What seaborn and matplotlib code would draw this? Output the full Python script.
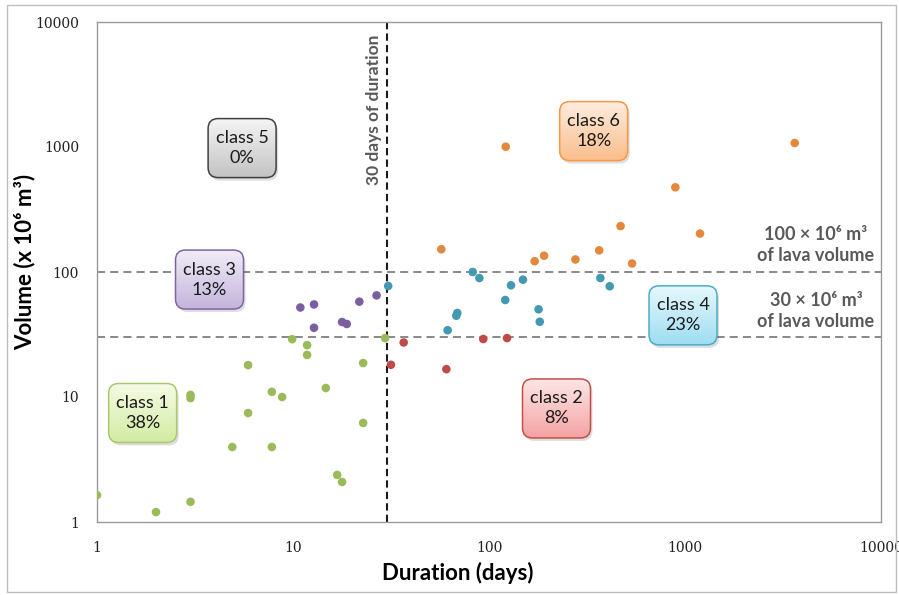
"""
Duration vs volume of lava flows, log-log, six classes split at
30 days of duration and 30 / 100 x 10^6 m3 of lava volume.
"""

import numpy as np
import pandas as pd
import seaborn as sns
import matplotlib.pyplot as plt
from matplotlib.colors import to_rgb
from matplotlib.patches import Rectangle, FancyBboxPatch
from matplotlib.ticker import FixedLocator, NullLocator

# --- datos ---
class1_dur = [1, 2, 3, 3, 3, 4.9, 5.9, 5.9, 7.8, 7.8, 8.8, 9.9, 11.8, 11.8, 14.7, 16.8, 17.8, 22.8, 22.8, 29.5]
class1_vol = [1.64, 1.2, 1.45, 10.4, 9.8, 3.98, 18, 7.45, 11, 3.98, 10, 29, 26, 21.7, 11.8, 2.38, 2.09, 18.7, 6.2, 29.6]
class2_dur = [31.6, 36.7, 60.6, 93.5, 123.6]
class2_vol = [18.1, 27.3, 16.7, 29.1, 29.6]
class3_dur = [10.9, 12.8, 12.8, 17.8, 18.8, 21.8, 26.7]
class3_vol = [52, 55, 35.8, 39.8, 38.4, 57.9, 65]
class4_dur = [30.6, 61.5, 68.1, 68.9, 82.6, 89.3, 121, 129.5, 149, 179, 181.5, 370, 413]
class4_vol = [77.3, 34.2, 44.7, 47, 100, 89.5, 59.7, 78.3, 86.8, 50.3, 40, 89.5, 76.9]
class6_dur = [57.1, 121.7, 171, 191, 276, 365, 469, 537, 893, 1193, 3629]
class6_vol = [152, 1005, 122, 135, 126, 149, 233, 117, 476, 203, 1077]

class_names = ["class 1", "class 2", "class 3", "class 4", "class 5", "class 6"]
class_pct = ["38%", "8%", "13%", "23%", "0%", "18%"]

tick_values = [1, 10, 100, 1000, 10000]
tick_labels = ["1", "10", "100", "1000", "10000"]

duration_limit = 30
volume_limits = [30, 100]

# --- colores ---
dot_colors = {"class 1": "#9BBB59", "class 2": "#BE4B48", "class 3": "#7A5E9F",
              "class 4": "#4399B2", "class 6": "#E3883D"}
box_styles = {  # arriba, abajo, borde
    "class 1": ("#F6FBE6", "#D3EBA3", "#A9C86E"),
    "class 2": ("#FDE6E6", "#F4A2A2", "#C0504D"),
    "class 3": ("#F0ECF6", "#C4B5DC", "#8064A2"),
    "class 4": ("#E6F8FD", "#9EDDF1", "#4BACC6"),
    "class 5": ("#F4F4F4", "#C3C3C3", "#404040"),
    "class 6": ("#FEECDD", "#FABE8C", "#F79646"),
}
# centro de cada caja (duración, volumen)
box_pos = {"class 1": (1.71, 7.45), "class 2": (221, 8.1), "class 3": (3.75, 87),
           "class 4": (977, 45), "class 5": (5.5, 980), "class 6": (342, 1340)}

df = pd.concat([
    pd.DataFrame({"duration": d, "volume": v, "cls": c})
    for d, v, c in [(class1_dur, class1_vol, "class 1"), (class2_dur, class2_vol, "class 2"),
                    (class3_dur, class3_vol, "class 3"), (class4_dur, class4_vol, "class 4"),
                    (class6_dur, class6_vol, "class 6")]
], ignore_index=True)

sns.set_theme(style="white")
plt.rcParams["font.family"] = ["Lato", "DejaVu Sans"]

W, H = 899, 595
fig = plt.figure(figsize=(W / 100, H / 100), dpi=100)
ax = fig.add_axes([97 / W, 1 - 522 / H, 784 / W, 500 / H])

sns.scatterplot(data=df, x="duration", y="volume", hue="cls", palette=dot_colors,
                s=38, edgecolor="none", legend=False, ax=ax, zorder=3)

ax.set_xscale("log")
ax.set_yscale("log")
ax.set_xlim(1, 10000)
ax.set_ylim(1, 10000)

for axis in (ax.xaxis, ax.yaxis):
    axis.set_major_locator(FixedLocator(tick_values))
    axis.set_minor_locator(NullLocator())
ax.set_xticklabels(tick_labels)
ax.set_yticklabels(tick_labels)
ax.tick_params(length=0, labelsize=10, colors="#222222")
ax.tick_params(axis="x", pad=14)
ax.tick_params(axis="y", pad=13)
for lab in ax.get_xticklabels() + ax.get_yticklabels():
    lab.set_family("DejaVu Serif")

for sp in ax.spines.values():
    sp.set_color("#9A9A9A")
    sp.set_linewidth(1)

ax.set_xlabel("Duration (days)", fontsize=16, fontweight="bold", color="black")
ax.set_ylabel("Volume (x 10⁶ m³)", fontsize=16, fontweight="bold", color="black")
ax.xaxis.set_label_coords(0.46, -0.08)
ax.yaxis.set_label_coords(-0.078, 0.52)

# líneas de corte
ax.axvline(duration_limit, color="#1a1a1a", lw=1.5, ls=(0, (3.5, 2)), zorder=2)
for v in volume_limits:
    ax.axhline(v, color="#7F7F7F", lw=1.3, ls=(0, (4.5, 2.8)), zorder=2)

grey = "#595959"
ax.text(25.9, 1977, "30 days of duration", rotation=90, ha="center", va="center",
        fontsize=12.5, fontweight="bold", color=grey)
ax.text(4660, 164, "100 × 10⁶ m³\nof lava volume", ha="center", va="center",
        fontsize=13, fontweight="bold", color=grey, linespacing=1.25)
ax.text(4660, 48.8, "30 × 10⁶ m³\nof lava volume", ha="center", va="center",
        fontsize=13, fontweight="bold", color=grey, linespacing=1.25)

# --- cajas de clase con degradado (en píxeles sobre un eje superpuesto) ---
ov = fig.add_axes([0, 0, 1, 1], zorder=5)
ov.set_autoscale_on(False)
ov.set_xlim(0, W)
ov.set_ylim(0, H)
ov.axis("off")
ov.patch.set_visible(False)

bw, bh = 68, 59
style = "round,pad=0,rounding_size=10"
g = np.linspace(0, 1, 64)[:, None, None]
for name, pct in zip(class_names, class_pct):
    top, bottom, edge = box_styles[name]
    px, py = ax.transData.transform(box_pos[name])
    x0, y0 = px - bw / 2, py - bh / 2
    ov.add_patch(FancyBboxPatch((x0 + 2, y0 - 3), bw, bh, boxstyle=style,
                                fc="black", alpha=0.13, ec="none", zorder=1))
    frame = FancyBboxPatch((x0, y0), bw, bh, boxstyle=style, fc="none",
                           ec=edge, lw=1.1, zorder=3)
    ov.add_patch(frame)
    rgb = (1 - g) * np.array(to_rgb(top)) + g * np.array(to_rgb(bottom))
    img = ov.imshow(rgb, extent=(x0, x0 + bw, y0, y0 + bh), aspect="auto",
                    interpolation="bilinear", zorder=2)
    img.set_clip_path(frame)
    ov.text(px, py, f"{name}\n{pct}", ha="center", va="center", fontsize=13,
            color="#1a1a1a", linespacing=1.3, zorder=4)

ov.set_xlim(0, W)
ov.set_ylim(0, H)

fig.add_artist(Rectangle((7 / W, 3 / H), 889 / W, 587 / H, transform=fig.transFigure,
                         fill=False, ec="#BDBDBD", lw=1))

fig.savefig("out.png", dpi=100)
